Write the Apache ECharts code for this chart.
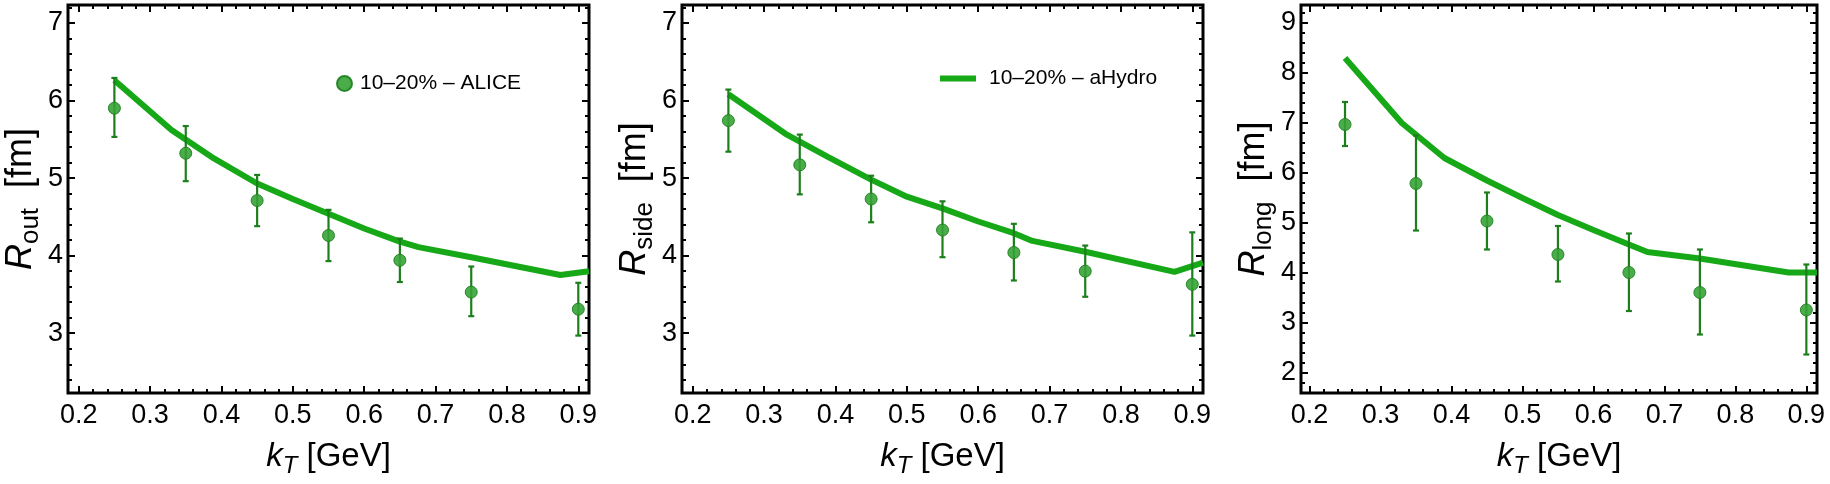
<!DOCTYPE html>
<html>
<head>
<meta charset="utf-8">
<script src="https://cdn.jsdelivr.net/npm/echarts@6/dist/echarts.min.js"></script>
<style>
  html, body { margin: 0; padding: 0; background: #fff; }
  #chart { width: 1830px; height: 484px; }
</style>
</head>
<body>
<div id="chart"></div>
<script>
// ALICE points (10-20%), kT bin centres
const kT = [0.25, 0.35, 0.45, 0.55, 0.65, 0.75, 0.9];
const rOut = [5.90, 5.32, 4.71, 4.26, 3.94, 3.53, 3.31];
const rOutLo = [5.53, 4.96, 4.38, 3.93, 3.66, 3.22, 2.97];
const rOutHi = [6.29, 5.67, 5.04, 4.59, 4.22, 3.86, 3.65];
const rSide = [5.74, 5.17, 4.73, 4.33, 4.04, 3.80, 3.63];
const rSideLo = [5.34, 4.79, 4.43, 3.98, 3.68, 3.47, 2.97];
const rSideHi = [6.14, 5.56, 5.03, 4.70, 4.41, 4.13, 4.30];
const rLong = [6.97, 5.79, 5.04, 4.37, 4.01, 3.61, 3.26];
const rLongLo = [6.54, 4.85, 4.47, 3.83, 3.24, 2.77, 2.37];
const rLongHi = [7.42, 6.75, 5.61, 4.94, 4.79, 4.47, 4.17];

// aHydro curve
const modelKT = [0.25, 0.33, 0.39, 0.45, 0.5, 0.55, 0.6, 0.65, 0.676, 0.75, 0.875, 0.915];
const modelOut = [6.26, 5.62, 5.25, 4.93, 4.73, 4.54, 4.35, 4.18, 4.11, 3.98, 3.75, 3.80];
const modelSide = [6.08, 5.57, 5.27, 4.98, 4.76, 4.61, 4.44, 4.29, 4.19, 4.05, 3.79, 3.91];
const modelLong = [8.30, 7.00, 6.30, 5.85, 5.50, 5.16, 4.86, 4.57, 4.42, 4.29, 4.01, 4.01];

// tick labels
const xTicks = [0.2, 0.3, 0.4, 0.5, 0.6, 0.7, 0.8, 0.9];
const yTicksRO = [3, 4, 5, 6, 7];
const yTicksRL = [2, 3, 4, 5, 6, 7, 8, 9];

const NAME_DATA = '10–20% – ALICE';
const NAME_MODEL = '10–20% – aHydro';
const FONT = '"Liberation Sans", Arial, sans-serif';
const LINE_COLOR = '#17a817';
const DOT_COLOR = '#36a336';
const ERR_COLOR = '#1c7f1c';

const panels = [
  { left: 68, width: 521, x: [0.185, 0.915], y: [2.23, 7.23], yTicks: yTicksRO, sub: 'out',
    pts: rOut, lo: rOutLo, hi: rOutHi, model: modelOut },
  { left: 682, width: 521, x: [0.185, 0.915], y: [2.23, 7.23], yTicks: yTicksRO, sub: 'side',
    pts: rSide, lo: rSideLo, hi: rSideHi, model: modelSide },
  { left: 1301, width: 516, x: [0.188, 0.915], y: [1.6, 9.36], yTicks: yTicksRL, sub: 'long',
    pts: rLong, lo: rLongLo, hi: rLongHi, model: modelLong }
];

// minor ticks: 5 subdivisions of each major step, kept inside the range
function minorTicks(majors, range) {
  const step = (majors[1] - majors[0]) / 5;
  const out = [];
  let v = majors[0];
  while (v - step >= range[0]) v -= step;
  for (; v <= range[1] + 1e-9; v += step) {
    const r = Math.round(v * 1000) / 1000;
    if (!majors.some(m => Math.abs(m - r) < 1e-6)) out.push(r);
  }
  return out;
}

const tickStyle = { width: 2, color: '#000' };

function sideAxes(g, range, majors, pos, opts) {
  const base = {
    gridIndex: g, type: 'value', min: range[0], max: range[1],
    axisLine: { show: false }, splitLine: { show: false }
  };
  const minors = minorTicks(majors, range);
  const main = Object.assign({}, base, {
    position: pos,
    axisTick: { inside: true, length: 7, lineStyle: tickStyle, customValues: majors },
    axisLabel: { show: false }
  }, opts || {});
  const minor = Object.assign({}, base, {
    position: pos,
    axisTick: { inside: true, length: 4, lineStyle: tickStyle, customValues: minors },
    axisLabel: { show: false }
  });
  return [main, minor];
}

function richName(main, sub, unit, italicSub, size, subSize, gap) {
  return {
    text: '{i|' + main + '}{s|' + sub + '}' + gap + '{n|' + unit + '}',
    style: {
      fontFamily: FONT, fontSize: size, color: '#000',
      rich: {
        i: { fontFamily: FONT, fontSize: size, fontStyle: 'italic', lineHeight: size + 10, color: '#000' },
        s: { fontFamily: FONT, fontSize: subSize, fontStyle: italicSub ? 'italic' : 'normal', lineHeight: subSize + 3, verticalAlign: 'bottom', color: '#000' },
        n: { fontFamily: FONT, fontSize: size, lineHeight: size + 10, color: '#000' }
      }
    }
  };
}

const grid = [], xAxis = [], yAxis = [], series = [];

panels.forEach((p, g) => {
  grid.push({
    left: p.left, top: 5, width: p.width, height: 388,
    show: true, borderColor: '#000', borderWidth: 3, backgroundColor: 'transparent'
  });
  const xName = richName('k', 'T', '[GeV]', true, 33, 24, ' ');
  const yName = richName('R', p.sub, '[fm]', false, 36, 26, '  ');
  xAxis.push(...sideAxes(g, p.x, xTicks, 'bottom', {
    axisLabel: {
      customValues: xTicks, formatter: v => v.toFixed(1),
      fontFamily: FONT, fontSize: 27, color: '#000', margin: 9
    },
    name: xName.text, nameLocation: 'middle', nameGap: 42, nameTextStyle: xName.style
  }));
  xAxis.push(...sideAxes(g, p.x, xTicks, 'top'));
  yAxis.push(...sideAxes(g, p.y, p.yTicks, 'left', {
    axisLabel: {
      customValues: p.yTicks, formatter: v => String(v),
      fontFamily: FONT, fontSize: 27, color: '#000', margin: 5
    },
    name: yName.text, nameLocation: 'middle', nameRotate: 90, nameGap: 19, nameTextStyle: yName.style
  }));
  yAxis.push(...sideAxes(g, p.y, p.yTicks, 'right'));

  const ax = g * 4;
  series.push({
    name: NAME_MODEL, type: 'line', xAxisIndex: ax, yAxisIndex: ax,
    data: modelKT.map((k, i) => [k, p.model[i]]),
    showSymbol: false, color: LINE_COLOR,
    lineStyle: { width: 6, color: LINE_COLOR }, z: 2
  });
  series.push({
    type: 'custom', xAxisIndex: ax, yAxisIndex: ax, z: 3,
    data: kT.map((k, i) => [k, p.lo[i], p.hi[i]]),
    renderItem: function (params, api) {
      const lo = api.coord([api.value(0), api.value(1)]);
      const hi = api.coord([api.value(0), api.value(2)]);
      const cap = 3;
      const style = { stroke: ERR_COLOR, lineWidth: 2.2 };
      return {
        type: 'group',
        children: [
          { type: 'line', shape: { x1: lo[0], y1: lo[1], x2: hi[0], y2: hi[1] }, style },
          { type: 'line', shape: { x1: lo[0] - cap, y1: lo[1], x2: lo[0] + cap, y2: lo[1] }, style },
          { type: 'line', shape: { x1: hi[0] - cap, y1: hi[1], x2: hi[0] + cap, y2: hi[1] }, style }
        ]
      };
    }
  });
  series.push({
    name: NAME_DATA, type: 'scatter', xAxisIndex: ax, yAxisIndex: ax, z: 4,
    data: kT.map((k, i) => [k, p.pts[i]]),
    symbol: 'circle', symbolSize: 12, color: DOT_COLOR,
    itemStyle: { color: DOT_COLOR, borderColor: ERR_COLOR, borderWidth: 1, opacity: 0.9 }
  });
});

const chart = echarts.init(document.getElementById('chart'));
chart.setOption({
  backgroundColor: '#fff',
  animation: false,
  grid, xAxis, yAxis, series,
  legend: [
    {
      data: [{ name: NAME_DATA, icon: 'circle' }], left: 336, top: 73, padding: 0,
      itemWidth: 15, itemHeight: 15, selectedMode: false,
      textStyle: { fontFamily: FONT, fontSize: 21, color: '#000', padding: [0, 0, 0, 3] }
    },
    {
      data: [{ name: NAME_MODEL, icon: 'rect' }], left: 940, top: 68, padding: 0,
      itemWidth: 36, itemHeight: 6, selectedMode: false,
      textStyle: { fontFamily: FONT, fontSize: 21, color: '#000', padding: [0, 0, 0, 8] }
    }
  ]
});
</script>
</body>
</html>
